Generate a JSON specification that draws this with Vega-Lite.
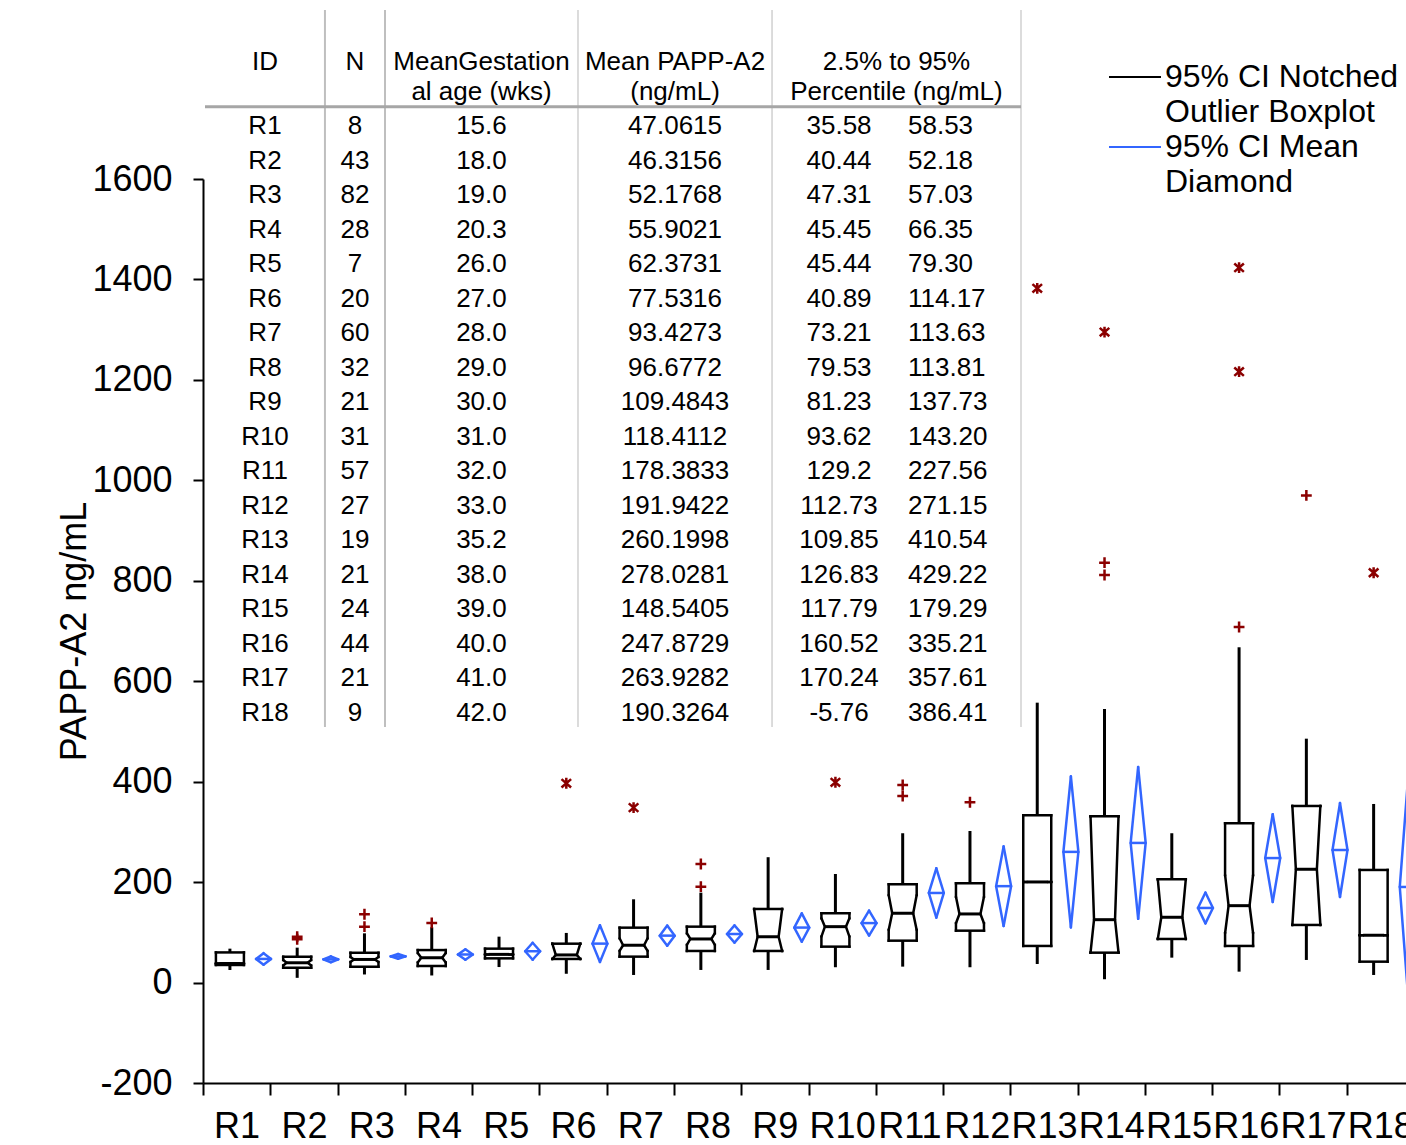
{
  "$schema": "https://vega.github.io/schema/vega-lite/v6.json",
  "width": 1203,
  "height": 904,
  "autosize": "none",
  "padding": {"left": 203, "top": 179, "right": 0, "bottom": 62},
  "background": "white",
  "config": {
    "font": "Liberation Sans",
    "locale": {"number": {"decimal": ".", "thousands": "", "grouping": [3], "currency": ["$", ""], "minus": "-"}},
    "view": {"stroke": null},
    "axis": {"labelFont": "Liberation Sans", "titleFont": "Liberation Sans", "labelColor": "#000000", "titleColor": "#000000", "domainColor": "#000000", "tickColor": "#000000"},
    "legend": {"labelFont": "Liberation Sans", "labelColor": "#000000"},
    "text": {"font": "Liberation Sans", "color": "#000000"}
  },
  "datasets": {
    "stats": [
      {"id":"R1","n":8,"gest":15.6,"mean":47.0615,"lo":35.58,"hi":58.53,"min":25,"q1":35,"nlo":38,"med":38,"nhi":38,"q3":60,"max":67.5},
      {"id":"R2","n":43,"gest":18.0,"mean":46.3156,"lo":40.44,"hi":52.18,"min":9.4,"q1":29.5,"nlo":34,"med":39.4,"nhi":45,"q3":51.4,"max":69.5},
      {"id":"R3","n":82,"gest":19.0,"mean":52.1768,"lo":47.31,"hi":57.03,"min":16.1,"q1":31.5,"nlo":41,"med":46,"nhi":51,"q3":59.3,"max":98},
      {"id":"R4","n":28,"gest":20.3,"mean":55.9021,"lo":45.45,"hi":66.35,"min":14.1,"q1":33,"nlo":40,"med":49.4,"nhi":59,"q3":64.7,"max":110},
      {"id":"R5","n":7,"gest":26.0,"mean":62.3731,"lo":45.44,"hi":79.30,"min":30.9,"q1":48.2,"nlo":56.1,"med":56.1,"nhi":56.1,"q3":67.5,"max":91.4},
      {"id":"R6","n":20,"gest":27.0,"mean":77.5316,"lo":40.89,"hi":114.17,"min":17.5,"q1":47,"nlo":47,"med":55,"nhi":77.4,"q3":77.4,"max":98.8},
      {"id":"R7","n":60,"gest":28.0,"mean":93.4273,"lo":73.21,"hi":113.63,"min":15.1,"q1":51.6,"nlo":62.9,"med":74.3,"nhi":88.2,"q3":109.3,"max":165.8},
      {"id":"R8","n":32,"gest":29.0,"mean":96.6772,"lo":79.53,"hi":113.81,"min":25.1,"q1":62.9,"nlo":74.9,"med":86.8,"nhi":98.2,"q3":111.3,"max":179},
      {"id":"R9","n":21,"gest":30.0,"mean":109.4843,"lo":81.23,"hi":137.73,"min":25.1,"q1":62.9,"nlo":62.9,"med":91.2,"nhi":146.5,"q3":146.5,"max":249.6},
      {"id":"R10","n":31,"gest":31.0,"mean":118.4112,"lo":93.62,"hi":143.20,"min":30.5,"q1":71.5,"nlo":91.4,"med":111.3,"nhi":128,"q3":138,"max":216.2},
      {"id":"R11","n":57,"gest":32.0,"mean":178.3833,"lo":129.2,"hi":227.56,"min":31.7,"q1":83.4,"nlo":104.7,"med":138,"nhi":174.4,"q3":195.7,"max":297.3},
      {"id":"R12","n":27,"gest":33.0,"mean":191.9422,"lo":112.73,"hi":271.15,"min":30.5,"q1":103.3,"nlo":118,"med":136.6,"nhi":171,"q3":197.7,"max":301.8},
      {"id":"R13","n":19,"gest":35.2,"mean":260.1998,"lo":109.85,"hi":410.54,"min":37,"q1":72.9,"nlo":200.3,"med":200.3,"nhi":200.3,"q3":333.1,"max":557.3},
      {"id":"R14","n":21,"gest":38.0,"mean":278.0281,"lo":126.83,"hi":429.22,"min":6.6,"q1":59.5,"nlo":59.5,"med":125.2,"nhi":331.1,"q3":331.1,"max":544.7},
      {"id":"R15","n":24,"gest":39.0,"mean":148.5405,"lo":117.79,"hi":179.29,"min":49.6,"q1":86.8,"nlo":86.8,"med":130,"nhi":205.7,"q3":205.7,"max":297.3},
      {"id":"R16","n":44,"gest":40.0,"mean":247.8729,"lo":160.52,"hi":335.21,"min":21.7,"q1":72.9,"nlo":98.2,"med":153.1,"nhi":214.2,"q3":317.2,"max":667.6},
      {"id":"R17","n":21,"gest":41.0,"mean":263.9282,"lo":170.24,"hi":357.61,"min":45,"q1":114.7,"nlo":114.7,"med":225.6,"nhi":351.6,"q3":351.6,"max":485.6},
      {"id":"R18","n":9,"gest":42.0,"mean":190.3264,"lo":-5.76,"hi":386.41,"min":15.1,"q1":41.6,"nlo":94.2,"med":94.2,"nhi":94.2,"q3":224.2,"max":355.6}
    ],
    "outliers": [
      {"id":"R2","value":91.4,"kind":"near"},
      {"id":"R2","value":86.2,"kind":"near"},
      {"id":"R3","value":136,"kind":"near"},
      {"id":"R3","value":111.3,"kind":"near"},
      {"id":"R4","value":118.7,"kind":"near"},
      {"id":"R6","value":396.8,"kind":"far"},
      {"id":"R7","value":348.3,"kind":"far"},
      {"id":"R8","value":236.1,"kind":"near"},
      {"id":"R8","value":191,"kind":"near"},
      {"id":"R10","value":398.8,"kind":"far"},
      {"id":"R11","value":393.4,"kind":"near"},
      {"id":"R11","value":371.5,"kind":"near"},
      {"id":"R12","value":359,"kind":"near"},
      {"id":"R13","value":1382.4,"kind":"far"},
      {"id":"R14","value":1295.3,"kind":"far"},
      {"id":"R14","value":836,"kind":"near"},
      {"id":"R14","value":811.5,"kind":"near"},
      {"id":"R16","value":1423.4,"kind":"far"},
      {"id":"R16","value":1216.3,"kind":"far"},
      {"id":"R16","value":708,"kind":"near"},
      {"id":"R17","value":970,"kind":"near"},
      {"id":"R18","value":816,"kind":"far"}
    ]
  },
  "resolve": {"scale": {"x": "independent", "y": "independent"}},
  "layer": [
    {
      "data": {"name": "stats"},
      "layer": [
        {
          "mark": {"type": "rule", "strokeWidth": 3},
          "encoding": {
            "x": {"field": "id", "type": "nominal", "bandPosition": 0.4,
                  "scale": {"domain": ["R1","R2","R3","R4","R5","R6","R7","R8","R9","R10","R11","R12","R13","R14","R15","R16","R17","R18"], "range": [0, 1211], "paddingInner": 0, "paddingOuter": 0},
                  "axis": {"title": null, "tickBand": "extent", "labelFontSize": 36, "labelPadding": 14, "tickSize": 12, "tickWidth": 2, "domainWidth": 2, "labelOverlap": false, "labelBound": false, "labelFlush": false, "labelAngle": 0}},
            "y": {"field": "q3", "type": "quantitative",
                  "scale": {"domain": [-200, 1600], "nice": false, "zero": false},
                  "axis": {"title": "PAPP-A2 ng/mL", "format": "d", "values": [-200, 0, 200, 400, 600, 800, 1000, 1200, 1400, 1600], "labelFontSize": 36, "labelPadding": 21, "tickSize": 10, "tickWidth": 2, "domainWidth": 2, "grid": false, "titleFontSize": 36, "titleFontWeight": "normal", "titleX": -110, "titleY": 452, "labelOverlap": false}},
            "y2": {"field": "max"},
            "color": {"datum": "box", "type": "nominal",
                      "scale": {"domain": ["box", "diamond"], "range": ["#000000", "#3366FF"]},
                      "legend": {"orient": "none", "legendX": 905, "legendY": -121, "title": null, "symbolType": "M-1.444,0L1.444,0", "symbolSize": 1296, "symbolOffset": 8, "symbolStrokeWidth": 2, "labelFontSize": 32, "labelLimit": 0, "padding": 0, "rowPadding": 0, "labelOffset": 11, "labelBaseline": "middle",
                                 "labelExpr": "datum.value == 'box' ? ['95% CI Notched', 'Outlier Boxplot'] : ['95% CI Mean', 'Diamond']",
                                 "encode": {"labels": {"update": {"lineHeight": {"value": 34.5}}}}}}
          }
        },
        {
          "mark": {"type": "rule", "strokeWidth": 3, "color": "#000000"},
          "encoding": {
            "x": {"field": "id", "type": "nominal", "bandPosition": 0.4},
            "y": {"field": "q1", "type": "quantitative"},
            "y2": {"field": "min"}
          }
        },
        {
          "mark": {"type": "rule", "strokeWidth": 2.5, "color": "#000000", "strokeCap": "square", "xOffset": -14, "x2Offset": 14},
          "encoding": {
            "x": {"field": "id", "type": "nominal", "bandPosition": 0.4},
            "x2": {"field": "id", "bandPosition": 0.4},
            "y": {"field": "q3", "type": "quantitative"}
          }
        },
        {
          "mark": {"type": "rule", "strokeWidth": 2.5, "color": "#000000", "strokeCap": "square", "xOffset": -14, "x2Offset": 14},
          "encoding": {
            "x": {"field": "id", "type": "nominal", "bandPosition": 0.4},
            "x2": {"field": "id", "bandPosition": 0.4},
            "y": {"field": "q1", "type": "quantitative"}
          }
        },
        {
          "mark": {"type": "rule", "strokeWidth": 3, "color": "#000000", "xOffset": -10.5, "x2Offset": 10.5},
          "encoding": {
            "x": {"field": "id", "type": "nominal", "bandPosition": 0.4},
            "x2": {"field": "id", "bandPosition": 0.4},
            "y": {"field": "med", "type": "quantitative"}
          }
        },
        {
          "mark": {"type": "rule", "strokeWidth": 2.5, "color": "#000000", "strokeCap": "square", "xOffset": -14},
          "encoding": {
            "x": {"field": "id", "type": "nominal", "bandPosition": 0.4},
            "y": {"field": "q3", "type": "quantitative"},
            "y2": {"field": "nhi"}
          }
        },
        {
          "mark": {"type": "rule", "strokeWidth": 2.5, "color": "#000000", "strokeCap": "square", "xOffset": 14},
          "encoding": {
            "x": {"field": "id", "type": "nominal", "bandPosition": 0.4},
            "y": {"field": "q3", "type": "quantitative"},
            "y2": {"field": "nhi"}
          }
        },
        {
          "mark": {"type": "rule", "strokeWidth": 2.5, "color": "#000000", "strokeCap": "square", "xOffset": -14},
          "encoding": {
            "x": {"field": "id", "type": "nominal", "bandPosition": 0.4},
            "y": {"field": "nlo", "type": "quantitative"},
            "y2": {"field": "q1"}
          }
        },
        {
          "mark": {"type": "rule", "strokeWidth": 2.5, "color": "#000000", "strokeCap": "square", "xOffset": 14},
          "encoding": {
            "x": {"field": "id", "type": "nominal", "bandPosition": 0.4},
            "y": {"field": "nlo", "type": "quantitative"},
            "y2": {"field": "q1"}
          }
        },
        {
          "mark": {"type": "rule", "strokeWidth": 2.5, "color": "#000000", "strokeCap": "round", "xOffset": -14, "x2Offset": -10.5},
          "encoding": {
            "x": {"field": "id", "type": "nominal", "bandPosition": 0.4},
            "x2": {"field": "id", "bandPosition": 0.4},
            "y": {"field": "nhi", "type": "quantitative"},
            "y2": {"field": "med"}
          }
        },
        {
          "mark": {"type": "rule", "strokeWidth": 2.5, "color": "#000000", "strokeCap": "round", "xOffset": 14, "x2Offset": 10.5},
          "encoding": {
            "x": {"field": "id", "type": "nominal", "bandPosition": 0.4},
            "x2": {"field": "id", "bandPosition": 0.4},
            "y": {"field": "nhi", "type": "quantitative"},
            "y2": {"field": "med"}
          }
        },
        {
          "mark": {"type": "rule", "strokeWidth": 2.5, "color": "#000000", "strokeCap": "round", "xOffset": -10.5, "x2Offset": -14},
          "encoding": {
            "x": {"field": "id", "type": "nominal", "bandPosition": 0.4},
            "x2": {"field": "id", "bandPosition": 0.4},
            "y": {"field": "med", "type": "quantitative"},
            "y2": {"field": "nlo"}
          }
        },
        {
          "mark": {"type": "rule", "strokeWidth": 2.5, "color": "#000000", "strokeCap": "round", "xOffset": 10.5, "x2Offset": 14},
          "encoding": {
            "x": {"field": "id", "type": "nominal", "bandPosition": 0.4},
            "x2": {"field": "id", "bandPosition": 0.4},
            "y": {"field": "med", "type": "quantitative"},
            "y2": {"field": "nlo"}
          }
        },
        {
          "mark": {"type": "rule", "strokeWidth": 2.5, "xOffset": -7.5, "x2Offset": 7.5},
          "encoding": {
            "x": {"field": "id", "type": "nominal", "bandPosition": 0.9},
            "x2": {"field": "id", "bandPosition": 0.9},
            "y": {"field": "mean", "type": "quantitative"},
            "color": {"datum": "diamond", "type": "nominal",
                      "scale": {"domain": ["box", "diamond"], "range": ["#000000", "#3366FF"]},
                      "legend": {"orient": "none", "legendX": 905, "legendY": -121, "title": null, "symbolType": "M-1.444,0L1.444,0", "symbolSize": 1296, "symbolOffset": 8, "symbolStrokeWidth": 2, "labelFontSize": 32, "labelLimit": 0, "padding": 0, "rowPadding": 0, "labelOffset": 11, "labelBaseline": "middle",
                                 "labelExpr": "datum.value == 'box' ? ['95% CI Notched', 'Outlier Boxplot'] : ['95% CI Mean', 'Diamond']",
                                 "encode": {"labels": {"update": {"lineHeight": {"value": 34.5}}}}}}
          }
        },
        {
          "mark": {"type": "rule", "strokeWidth": 2.5, "color": "#3366FF", "strokeCap": "round", "xOffset": 0, "x2Offset": -7.5},
          "encoding": {
            "x": {"field": "id", "type": "nominal", "bandPosition": 0.9},
            "x2": {"field": "id", "bandPosition": 0.9},
            "y": {"field": "hi", "type": "quantitative"},
            "y2": {"field": "mean"}
          }
        },
        {
          "mark": {"type": "rule", "strokeWidth": 2.5, "color": "#3366FF", "strokeCap": "round", "xOffset": 0, "x2Offset": 7.5},
          "encoding": {
            "x": {"field": "id", "type": "nominal", "bandPosition": 0.9},
            "x2": {"field": "id", "bandPosition": 0.9},
            "y": {"field": "hi", "type": "quantitative"},
            "y2": {"field": "mean"}
          }
        },
        {
          "mark": {"type": "rule", "strokeWidth": 2.5, "color": "#3366FF", "strokeCap": "round", "xOffset": 0, "x2Offset": -7.5},
          "encoding": {
            "x": {"field": "id", "type": "nominal", "bandPosition": 0.9},
            "x2": {"field": "id", "bandPosition": 0.9},
            "y": {"field": "lo", "type": "quantitative"},
            "y2": {"field": "mean"}
          }
        },
        {
          "mark": {"type": "rule", "strokeWidth": 2.5, "color": "#3366FF", "strokeCap": "round", "xOffset": 0, "x2Offset": 7.5},
          "encoding": {
            "x": {"field": "id", "type": "nominal", "bandPosition": 0.9},
            "x2": {"field": "id", "bandPosition": 0.9},
            "y": {"field": "lo", "type": "quantitative"},
            "y2": {"field": "mean"}
          }
        },
        {
          "data": {"name": "outliers"},
          "mark": {"type": "point", "filled": false, "stroke": "#8B0000", "strokeWidth": 2.5, "size": 144, "opacity": 1},
          "encoding": {
            "x": {"field": "id", "type": "nominal", "bandPosition": 0.4},
            "y": {"field": "value", "type": "quantitative"},
            "shape": {"field": "kind", "type": "nominal", "scale": {"domain": ["near", "far"], "range": ["M-0.9,0L0.9,0M0,-0.9L0,0.9", "M-0.8,-0.7L0.8,0.7M-0.8,0.7L0.8,-0.7M0,-0.9L0,0.9"]}, "legend": null}
          }
        }
      ]
    },
    {
      "data": {"name": "stats"},
      "layer": [
        {
          "mark": {"type": "text", "fontSize": 26, "align": "center", "baseline": "middle"},
          "encoding": {
            "x": {"datum": 0.0735, "type": "quantitative", "scale": {"domain": [0, 1], "range": [2, 818]}, "axis": null},
            "y": {"field": "id", "type": "nominal", "scale": {"type": "point", "padding": 0, "domain": ["h1","h2","R1","R2","R3","R4","R5","R6","R7","R8","R9","R10","R11","R12","R13","R14","R15","R16","R17","R18"], "range": [-121.8, 534]}, "axis": null},
            "text": {"field": "id"}
          }
        },
        {
          "mark": {"type": "text", "fontSize": 26, "align": "center", "baseline": "middle"},
          "encoding": {
            "x": {"datum": 0.1838, "type": "quantitative", "scale": {"domain": [0, 1], "range": [2, 818]}, "axis": null},
            "y": {"field": "id", "type": "nominal", "scale": {"type": "point", "padding": 0, "domain": ["h1","h2","R1","R2","R3","R4","R5","R6","R7","R8","R9","R10","R11","R12","R13","R14","R15","R16","R17","R18"], "range": [-121.8, 534]}, "axis": null},
            "text": {"field": "n", "type": "quantitative", "format": "d"}
          }
        },
        {
          "mark": {"type": "text", "fontSize": 26, "align": "center", "baseline": "middle"},
          "encoding": {
            "x": {"datum": 0.3388, "type": "quantitative", "scale": {"domain": [0, 1], "range": [2, 818]}, "axis": null},
            "y": {"field": "id", "type": "nominal", "scale": {"type": "point", "padding": 0, "domain": ["h1","h2","R1","R2","R3","R4","R5","R6","R7","R8","R9","R10","R11","R12","R13","R14","R15","R16","R17","R18"], "range": [-121.8, 534]}, "axis": null},
            "text": {"field": "gest", "type": "quantitative", "format": ".1f"}
          }
        },
        {
          "mark": {"type": "text", "fontSize": 26, "align": "center", "baseline": "middle"},
          "encoding": {
            "x": {"datum": 0.576, "type": "quantitative", "scale": {"domain": [0, 1], "range": [2, 818]}, "axis": null},
            "y": {"field": "id", "type": "nominal", "scale": {"type": "point", "padding": 0, "domain": ["h1","h2","R1","R2","R3","R4","R5","R6","R7","R8","R9","R10","R11","R12","R13","R14","R15","R16","R17","R18"], "range": [-121.8, 534]}, "axis": null},
            "text": {"field": "mean", "type": "quantitative", "format": ".4f"}
          }
        },
        {
          "mark": {"type": "text", "fontSize": 26, "align": "center", "baseline": "middle"},
          "encoding": {
            "x": {"datum": 0.777, "type": "quantitative", "scale": {"domain": [0, 1], "range": [2, 818]}, "axis": null},
            "y": {"field": "id", "type": "nominal", "scale": {"type": "point", "padding": 0, "domain": ["h1","h2","R1","R2","R3","R4","R5","R6","R7","R8","R9","R10","R11","R12","R13","R14","R15","R16","R17","R18"], "range": [-121.8, 534]}, "axis": null},
            "text": {"condition": {"test": "datum.lo == 129.2", "field": "lo", "type": "quantitative", "format": ".1f"}, "field": "lo", "type": "quantitative", "format": ".2f"}
          }
        },
        {
          "mark": {"type": "text", "fontSize": 26, "align": "left", "baseline": "middle"},
          "encoding": {
            "x": {"datum": 0.8615, "type": "quantitative", "scale": {"domain": [0, 1], "range": [2, 818]}, "axis": null},
            "y": {"field": "id", "type": "nominal", "scale": {"type": "point", "padding": 0, "domain": ["h1","h2","R1","R2","R3","R4","R5","R6","R7","R8","R9","R10","R11","R12","R13","R14","R15","R16","R17","R18"], "range": [-121.8, 534]}, "axis": null},
            "text": {"field": "hi", "type": "quantitative", "format": ".2f"}
          }
        },
        {
          "data": {"values": [{"t": "ID"}]},
          "mark": {"type": "text", "fontSize": 26, "align": "center", "baseline": "middle", "yOffset": 4.3},
          "encoding": {
            "x": {"datum": 0.0735, "type": "quantitative", "scale": {"domain": [0, 1], "range": [2, 818]}, "axis": null},
            "y": {"datum": "h1", "type": "nominal", "scale": {"type": "point", "padding": 0, "domain": ["h1","h2","R1","R2","R3","R4","R5","R6","R7","R8","R9","R10","R11","R12","R13","R14","R15","R16","R17","R18"], "range": [-121.8, 534]}, "axis": null},
            "text": {"field": "t"}
          }
        },
        {
          "data": {"values": [{"t": "N"}]},
          "mark": {"type": "text", "fontSize": 26, "align": "center", "baseline": "middle", "yOffset": 4.3},
          "encoding": {
            "x": {"datum": 0.1838, "type": "quantitative", "scale": {"domain": [0, 1], "range": [2, 818]}, "axis": null},
            "y": {"datum": "h1", "type": "nominal", "scale": {"type": "point", "padding": 0, "domain": ["h1","h2","R1","R2","R3","R4","R5","R6","R7","R8","R9","R10","R11","R12","R13","R14","R15","R16","R17","R18"], "range": [-121.8, 534]}, "axis": null},
            "text": {"field": "t"}
          }
        },
        {
          "data": {"values": [{"t": "MeanGestation"}]},
          "mark": {"type": "text", "fontSize": 26, "align": "center", "baseline": "middle", "yOffset": 4.3},
          "encoding": {
            "x": {"datum": 0.3388, "type": "quantitative", "scale": {"domain": [0, 1], "range": [2, 818]}, "axis": null},
            "y": {"datum": "h1", "type": "nominal", "scale": {"type": "point", "padding": 0, "domain": ["h1","h2","R1","R2","R3","R4","R5","R6","R7","R8","R9","R10","R11","R12","R13","R14","R15","R16","R17","R18"], "range": [-121.8, 534]}, "axis": null},
            "text": {"field": "t"}
          }
        },
        {
          "data": {"values": [{"t": "al age (wks)"}]},
          "mark": {"type": "text", "fontSize": 26, "align": "center", "baseline": "middle"},
          "encoding": {
            "x": {"datum": 0.3388, "type": "quantitative", "scale": {"domain": [0, 1], "range": [2, 818]}, "axis": null},
            "y": {"datum": "h2", "type": "nominal", "scale": {"type": "point", "padding": 0, "domain": ["h1","h2","R1","R2","R3","R4","R5","R6","R7","R8","R9","R10","R11","R12","R13","R14","R15","R16","R17","R18"], "range": [-121.8, 534]}, "axis": null},
            "text": {"field": "t"}
          }
        },
        {
          "data": {"values": [{"t": "Mean PAPP-A2"}]},
          "mark": {"type": "text", "fontSize": 26, "align": "center", "baseline": "middle", "yOffset": 4.3},
          "encoding": {
            "x": {"datum": 0.576, "type": "quantitative", "scale": {"domain": [0, 1], "range": [2, 818]}, "axis": null},
            "y": {"datum": "h1", "type": "nominal", "scale": {"type": "point", "padding": 0, "domain": ["h1","h2","R1","R2","R3","R4","R5","R6","R7","R8","R9","R10","R11","R12","R13","R14","R15","R16","R17","R18"], "range": [-121.8, 534]}, "axis": null},
            "text": {"field": "t"}
          }
        },
        {
          "data": {"values": [{"t": "(ng/mL)"}]},
          "mark": {"type": "text", "fontSize": 26, "align": "center", "baseline": "middle"},
          "encoding": {
            "x": {"datum": 0.576, "type": "quantitative", "scale": {"domain": [0, 1], "range": [2, 818]}, "axis": null},
            "y": {"datum": "h2", "type": "nominal", "scale": {"type": "point", "padding": 0, "domain": ["h1","h2","R1","R2","R3","R4","R5","R6","R7","R8","R9","R10","R11","R12","R13","R14","R15","R16","R17","R18"], "range": [-121.8, 534]}, "axis": null},
            "text": {"field": "t"}
          }
        },
        {
          "data": {"values": [{"t": "2.5% to 95%"}]},
          "mark": {"type": "text", "fontSize": 26, "align": "center", "baseline": "middle", "yOffset": 4.3},
          "encoding": {
            "x": {"datum": 0.8474, "type": "quantitative", "scale": {"domain": [0, 1], "range": [2, 818]}, "axis": null},
            "y": {"datum": "h1", "type": "nominal", "scale": {"type": "point", "padding": 0, "domain": ["h1","h2","R1","R2","R3","R4","R5","R6","R7","R8","R9","R10","R11","R12","R13","R14","R15","R16","R17","R18"], "range": [-121.8, 534]}, "axis": null},
            "text": {"field": "t"}
          }
        },
        {
          "data": {"values": [{"t": "Percentile (ng/mL)"}]},
          "mark": {"type": "text", "fontSize": 26, "align": "center", "baseline": "middle"},
          "encoding": {
            "x": {"datum": 0.8474, "type": "quantitative", "scale": {"domain": [0, 1], "range": [2, 818]}, "axis": null},
            "y": {"datum": "h2", "type": "nominal", "scale": {"type": "point", "padding": 0, "domain": ["h1","h2","R1","R2","R3","R4","R5","R6","R7","R8","R9","R10","R11","R12","R13","R14","R15","R16","R17","R18"], "range": [-121.8, 534]}, "axis": null},
            "text": {"field": "t"}
          }
        },
        {
          "data": {"values": [{"line": "ID|N"}]},
          "mark": {"type": "rule", "color": "#BFBFBF", "strokeWidth": 2, "yOffset": -47.2, "y2Offset": 14},
          "encoding": {
            "x": {"datum": 0.147, "type": "quantitative", "scale": {"domain": [0, 1], "range": [2, 818]}, "axis": null},
            "y": {"datum": "h1", "type": "nominal", "scale": {"type": "point", "padding": 0, "domain": ["h1","h2","R1","R2","R3","R4","R5","R6","R7","R8","R9","R10","R11","R12","R13","R14","R15","R16","R17","R18"], "range": [-121.8, 534]}, "axis": null},
            "y2": {"datum": "R18"}
          }
        },
        {
          "data": {"values": [{"line": "N|Gest"}]},
          "mark": {"type": "rule", "color": "#BFBFBF", "strokeWidth": 2, "yOffset": -47.2, "y2Offset": 14},
          "encoding": {
            "x": {"datum": 0.2206, "type": "quantitative", "scale": {"domain": [0, 1], "range": [2, 818]}, "axis": null},
            "y": {"datum": "h1", "type": "nominal", "scale": {"type": "point", "padding": 0, "domain": ["h1","h2","R1","R2","R3","R4","R5","R6","R7","R8","R9","R10","R11","R12","R13","R14","R15","R16","R17","R18"], "range": [-121.8, 534]}, "axis": null},
            "y2": {"datum": "R18"}
          }
        },
        {
          "data": {"values": [{"line": "Gest|Mean"}]},
          "mark": {"type": "rule", "color": "#D0D0D0", "strokeWidth": 1.5, "yOffset": -47.2, "y2Offset": 14},
          "encoding": {
            "x": {"datum": 0.4571, "type": "quantitative", "scale": {"domain": [0, 1], "range": [2, 818]}, "axis": null},
            "y": {"datum": "h1", "type": "nominal", "scale": {"type": "point", "padding": 0, "domain": ["h1","h2","R1","R2","R3","R4","R5","R6","R7","R8","R9","R10","R11","R12","R13","R14","R15","R16","R17","R18"], "range": [-121.8, 534]}, "axis": null},
            "y2": {"datum": "R18"}
          }
        },
        {
          "data": {"values": [{"line": "Mean|Pct"}]},
          "mark": {"type": "rule", "color": "#D0D0D0", "strokeWidth": 1.5, "yOffset": -47.2, "y2Offset": 14},
          "encoding": {
            "x": {"datum": 0.6949, "type": "quantitative", "scale": {"domain": [0, 1], "range": [2, 818]}, "axis": null},
            "y": {"datum": "h1", "type": "nominal", "scale": {"type": "point", "padding": 0, "domain": ["h1","h2","R1","R2","R3","R4","R5","R6","R7","R8","R9","R10","R11","R12","R13","R14","R15","R16","R17","R18"], "range": [-121.8, 534]}, "axis": null},
            "y2": {"datum": "R18"}
          }
        },
        {
          "data": {"values": [{"line": "Pct|end"}]},
          "mark": {"type": "rule", "color": "#D0D0D0", "strokeWidth": 1.5, "yOffset": -47.2, "y2Offset": 14},
          "encoding": {
            "x": {"datum": 1, "type": "quantitative", "scale": {"domain": [0, 1], "range": [2, 818]}, "axis": null},
            "y": {"datum": "h1", "type": "nominal", "scale": {"type": "point", "padding": 0, "domain": ["h1","h2","R1","R2","R3","R4","R5","R6","R7","R8","R9","R10","R11","R12","R13","R14","R15","R16","R17","R18"], "range": [-121.8, 534]}, "axis": null},
            "y2": {"datum": "R18"}
          }
        },
        {
          "data": {"values": [{"line": "header"}]},
          "mark": {"type": "rule", "color": "#A6A6A6", "strokeWidth": 3, "yOffset": 15},
          "encoding": {
            "x": {"datum": 0, "type": "quantitative", "scale": {"domain": [0, 1], "range": [2, 818]}, "axis": null},
            "x2": {"datum": 1},
            "y": {"datum": "h2", "type": "nominal", "scale": {"type": "point", "padding": 0, "domain": ["h1","h2","R1","R2","R3","R4","R5","R6","R7","R8","R9","R10","R11","R12","R13","R14","R15","R16","R17","R18"], "range": [-121.8, 534]}, "axis": null}
          }
        }
      ]
    }
  ]
}
